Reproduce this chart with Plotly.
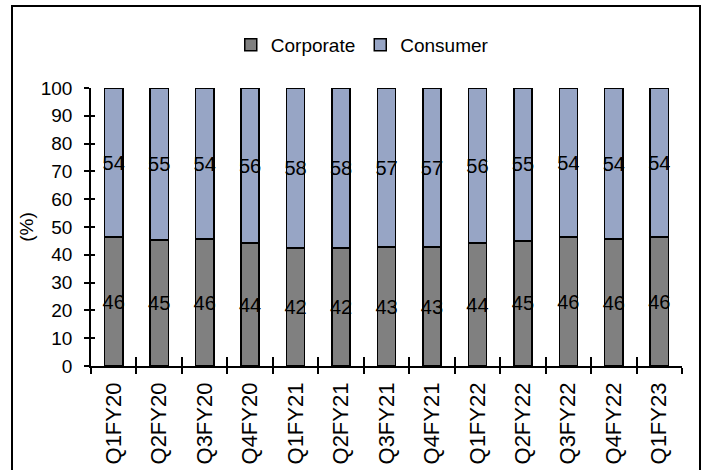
import plotly.graph_objects as go

quarters = ["Q1FY20", "Q2FY20", "Q3FY20", "Q4FY20", "Q1FY21", "Q2FY21", "Q3FY21",
            "Q4FY21", "Q1FY22", "Q2FY22", "Q3FY22", "Q4FY22", "Q1FY23"]
corporate = [46.4, 45.4, 45.6, 44.2, 42.4, 42.4, 42.8, 42.8, 44.2, 45.0, 46.4, 45.6, 46.4]
consumer = [53.6, 54.6, 54.4, 55.8, 57.6, 57.6, 57.2, 57.2, 55.8, 55.0, 53.6, 54.4, 53.6]
y_ticks = [0, 10, 20, 30, 40, 50, 60, 70, 80, 90, 100]

FONT = "Arial, Liberation Sans, sans-serif"
line = dict(color="black", width=1.5)

fig = go.Figure()
fig.add_trace(go.Bar(x=quarters, y=corporate, name="Corporate",
                     marker=dict(color="#808080", line=line),
                     texttemplate="%{y:.0f}", textposition="inside",
                     insidetextanchor="middle", textangle=0, constraintext="none",
                     textfont=dict(family=FONT, size=20, color="black")))
fig.add_trace(go.Bar(x=quarters, y=consumer, name="Consumer",
                     marker=dict(color="#97A5C5", line=line),
                     texttemplate="%{y:.0f}", textposition="inside",
                     insidetextanchor="middle", textangle=0, constraintext="none",
                     textfont=dict(family=FONT, size=20, color="black")))

fig.update_layout(
    width=707, height=470,
    margin=dict(l=91, r=25, t=88, b=104),
    paper_bgcolor="white", plot_bgcolor="white",
    barmode="stack", bargap=0.6,
    font=dict(family=FONT, size=18, color="black"),
    showlegend=True,
    legend=dict(orientation="h", x=0.459, xanchor="center", y=1.155, yanchor="middle",
                font=dict(size=19), itemwidth=30, traceorder="normal",
                bgcolor="rgba(0,0,0,0)"),
    xaxis=dict(type="category", categoryarray=quarters, tickson="boundaries",
               ticks="outside", ticklen=6, tickwidth=1.5, tickcolor="black",
               showline=True, linecolor="black", linewidth=1.5, automargin=False,
               tickangle=-90, tickfont=dict(size=22), showgrid=False,
               range=[-0.5, len(quarters) - 0.5], ticklabelstandoff=6),
    yaxis=dict(range=[0, 100], tickvals=y_ticks, ticks="outside", ticklen=5,
               tickwidth=1.5, tickcolor="black", showline=True, linecolor="black",
               linewidth=1.5, showgrid=False, zeroline=False, automargin=False,
               tickfont=dict(size=19), ticklabelstandoff=8,
               title=dict(text="(%)", font=dict(size=19), standoff=2)),
    xaxis2=dict(overlaying="x", anchor="y", side="bottom", range=[-0.5, len(quarters) - 0.5],
                tick0=-0.5, dtick=1, ticks="inside", ticklen=9, tickwidth=1.5,
                tickcolor="black", showticklabels=False, showline=False,
                showgrid=False, zeroline=False, automargin=False),
    yaxis2=dict(overlaying="y", anchor="x", side="left", range=[0, 100], tickvals=y_ticks,
                ticks="inside", ticklen=4, tickwidth=1.5, tickcolor="black",
                showticklabels=False, showline=False, showgrid=False, zeroline=False,
                automargin=False),
)

# dummy invisible trace to activate overlay axes
fig.add_trace(go.Scatter(x=[0], y=[0], xaxis="x2", yaxis="y2", mode="markers",
                         marker=dict(opacity=0), showlegend=False, hoverinfo="skip"))

# outer frame
fig.add_shape(type="rect", xref="paper", yref="paper",
              x0=-79 / 591, x1=609 / 591, y0=-110 / 278, y1=360 / 278,
              line=dict(color="black", width=2), fillcolor="rgba(0,0,0,0)", layer="below")

fig.write_html("out.html")
